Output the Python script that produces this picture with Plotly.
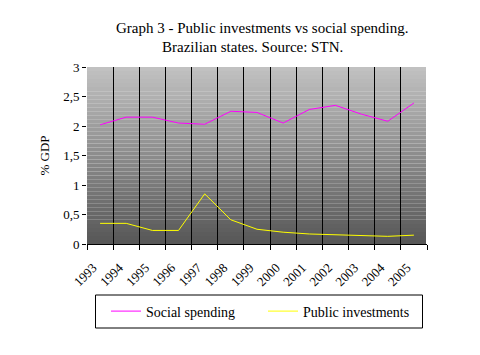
import plotly.graph_objects as go

years = ["1993", "1994", "1995", "1996", "1997", "1998", "1999",
         "2000", "2001", "2002", "2003", "2004", "2005"]
social_spending = [2.02, 2.15, 2.15, 2.05, 2.03, 2.25, 2.23,
                   2.05, 2.28, 2.35, 2.20, 2.08, 2.39]
public_investments = [0.35, 0.35, 0.23, 0.23, 0.85, 0.41, 0.25,
                      0.20, 0.17, 0.16, 0.14, 0.13, 0.15]
y_ticks = [0, 0.5, 1, 1.5, 2, 2.5, 3]

FONT = "Liberation Serif, Times New Roman, serif"

# page body has an 8px margin; work in screen pixels and convert
OFF = 8
W, H = 480 - OFF, 355 - OFF
L, R, T, B = 87 - OFF, 480 - 427, 67 - OFF, 355 - 244
PW, PH = W - L - R, H - T - B


def px_x(p):
    return (p - OFF - L) / PW


def px_y(p):
    return (H - B - (p - OFF)) / PH


fig = go.Figure()
fig.add_trace(go.Scatter(x=years, y=social_spending, mode="lines",
                         name="Social spending",
                         line=dict(color="#FF00FF", width=1)))
fig.add_trace(go.Scatter(x=years, y=public_investments, mode="lines",
                         name="Public investments",
                         line=dict(color="#FFFF00", width=1)))

# gradient background of the plot area (light gray top -> dark gray bottom)
N = 44
top = (194, 194, 194)
bot = (86, 86, 86)
for i in range(N):
    t = (i + 0.5) / N
    c = tuple(int(round(top[k] + (bot[k] - top[k]) * t)) for k in range(3))
    fig.add_shape(type="rect", xref="x domain", yref="y domain",
                  x0=0, x1=1, y0=1 - (i + 1) / N, y1=1 - i / N,
                  line=dict(width=0), fillcolor="rgb(%d,%d,%d)" % c,
                  layer="below")
# white border on the right of the plot area (hides last gridline)
fig.add_shape(type="line", xref="x domain", yref="y domain",
              x0=1, x1=1, y0=0, y1=1, line=dict(color="white", width=2),
              layer="above")

# legend frame
fig.add_shape(type="rect", xref="paper", yref="paper",
              x0=px_x(95.5), x1=px_x(422.5), y0=px_y(328), y1=px_y(295),
              line=dict(color="black", width=1), fillcolor="white")

fig.add_annotation(text="Graph 3 - Public investments vs social spending.",
                   xref="paper", yref="paper", x=px_x(262), y=px_y(28),
                   showarrow=False, xanchor="center", yanchor="middle",
                   font=dict(family=FONT, size=15, color="black"))
fig.add_annotation(text="Brazilian states. Source: STN.",
                   xref="paper", yref="paper", x=px_x(252), y=px_y(47),
                   showarrow=False, xanchor="center", yanchor="middle",
                   font=dict(family=FONT, size=15, color="black"))

fig.update_layout(
    width=W, height=H,
    margin=dict(l=L, r=R, t=T, b=B, pad=0, autoexpand=False),
    paper_bgcolor="white",
    plot_bgcolor="rgba(0,0,0,0)",
    separators=",.",
    font=dict(family=FONT, size=13, color="black"),
    showlegend=True,
    legend=dict(orientation="h", x=px_x(106), xanchor="left",
                y=px_y(311.5), yanchor="middle",
                borderwidth=0, bgcolor="rgba(0,0,0,0)",
                entrywidth=112,
                font=dict(family=FONT, size=14, color="black")),
)
fig.update_xaxes(type="category", tickson="boundaries",
                 range=[-0.5, 12.5], automargin=False,
                 showgrid=True, gridcolor="black", gridwidth=1,
                 showline=True, linecolor="black", linewidth=1,
                 ticks="outside", ticklen=5, tickcolor="black",
                 tickangle=-45, zeroline=False, ticklabelstandoff=10,
                 ticklabelshift=-7,
                 tickfont=dict(family=FONT, size=13, color="black"))
fig.update_yaxes(range=[0, 3], tickvals=y_ticks, automargin=False,
                 showgrid=False, zeroline=False,
                 showline=False,
                 ticks="outside", ticklen=4, tickcolor="black",
                 title=dict(text="% GDP", standoff=10,
                            font=dict(family=FONT, size=13, color="black")),
                 tickfont=dict(family=FONT, size=13, color="black"))

fig.write_html("out.html")
